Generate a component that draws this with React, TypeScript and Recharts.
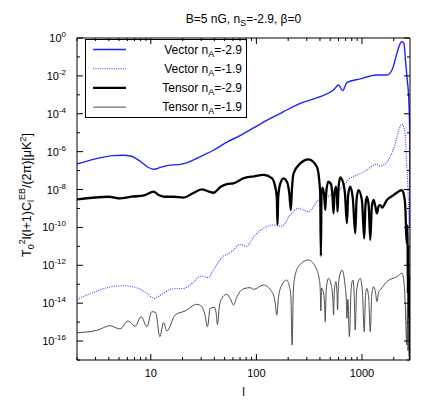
import React from 'react';
import { LineChart, Line, XAxis, YAxis, Legend } from 'recharts';

// multipole l and log10 of T0^2 l(l+1)C_l^EB/(2pi)
const vecSteepL = [2, 3, 4.4, 5.5, 6.4, 7.9, 9, 10.7, 12.5, 14.2, 19.6, 24, 29.3, 40, 52.5, 70, 94, 130, 181, 260, 402, 537, 600, 655, 720, 962, 1386, 1722, 1923, 2144, 2300, 2392, 2500, 2596, 2680, 2767, 2842, 2850];
const vecSteepExp = [-6.65, -6.38, -6.21, -6.19, -6.23, -6.5, -6.75, -6.93, -6.82, -6.74, -6.66, -6.5, -6.27, -5.9, -5.5, -5.15, -4.75, -4.3, -3.89, -3.45, -3.1, -2.75, -2.48, -2.78, -2.36, -2.16, -1.95, -1.95, -1.69, -0.81, -0.3, -0.19, -0.3, -1.33, -2.2, -3.1, -5.39, -10];

const vecFlatL = [2, 3, 4, 5.5, 7.1, 9.2, 10.7, 12.7, 15.8, 20.4, 23.6, 30, 35.2, 39.2, 47, 58, 70, 81, 94, 117, 145, 174, 209, 250, 311, 387, 465, 622, 774, 832, 1114, 1288, 1386, 1490, 1603, 1854, 2070, 2144, 2392, 2500, 2572, 2650, 2767, 2830, 2850];
const vecFlatExp = [-13.8, -13.39, -13.16, -13.08, -13.16, -13.48, -13.75, -13.53, -13.25, -13.22, -13.04, -12.57, -12.65, -12.25, -11.6, -11.3, -10.9, -11.0, -10.5, -10.05, -9.87, -9.93, -9.35, -8.99, -9.17, -8.55, -8.38, -7.99, -7.4, -7.32, -6.97, -6.71, -6.65, -6.76, -6.71, -6.25, -5.56, -5.21, -4.55, -4.75, -5.21, -6.62, -9.26, -13.66, -17];

const tenSteepL = [2, 4, 5.1, 6.6, 8.8, 10.6, 12, 13.6, 16.4, 20.4, 25, 30.4, 35, 39.2, 46, 52.5, 60.6, 75, 95, 117, 140, 150, 156, 158.5, 161, 168, 181, 195, 205, 212, 217, 225, 260, 311, 374, 395, 402, 408, 414, 425, 440, 449, 458, 480, 508, 525, 538, 550, 567, 580, 587, 600, 622, 650, 690, 720, 740, 774, 820, 863, 890, 928, 1000, 1050, 1080, 1114, 1160, 1198, 1240, 1288, 1340, 1386, 1440, 1490, 1550, 1722, 1995, 2392, 2500, 2572, 2650, 2700, 2720, 2745, 2765, 2790, 2810, 2830, 2850];
const tenSteepExp = [-8.52, -8.38, -8.47, -8.38, -8.29, -8.11, -8.3, -8.38, -8.38, -8.43, -8.2, -7.99, -8.1, -8.17, -7.85, -7.71, -7.67, -7.41, -7.3, -7.23, -7.4, -7.8, -8.4, -9.87, -8.4, -7.7, -7.41, -7.6, -8.2, -9.08, -8.0, -7.15, -6.62, -6.41, -6.8, -7.6, -8.2, -11.5, -8.2, -7.9, -8.4, -9.08, -8.2, -7.59, -7.7, -8.3, -9.26, -8.2, -7.85, -8.4, -9.17, -7.9, -7.36, -7.5, -8.2, -9.78, -8.3, -7.85, -8.5, -10.31, -8.5, -8.03, -8.6, -10.58, -8.8, -8.38, -8.9, -10.66, -8.9, -8.55, -8.9, -9.26, -8.85, -8.82, -8.95, -8.55, -8.29, -8.03, -8.3, -8.9, -10.84, -9.9, -13.5, -11, -16, -12.5, -16.5, -14, -17];

const tenFlatL = [2, 3.1, 4.1, 5.1, 6.1, 7.1, 8.1, 9.2, 10.2, 11.1, 12.2, 13.2, 14.2, 17, 21.1, 27.3, 30.4, 32.5, 34.4, 36.5, 40, 41.5, 42.8, 44.5, 47, 52.5, 57, 60.7, 65, 70, 78, 87, 94, 117, 140, 150, 156, 162, 174, 194, 205, 212, 218, 224, 233, 260, 311, 374, 395, 402, 408, 414, 425, 440, 449, 458, 482, 510, 530, 538, 548, 567, 580, 587, 600, 646, 690, 710, 720, 735, 760, 790, 820, 845, 863, 890, 962, 1010, 1050, 1080, 1114, 1160, 1198, 1240, 1288, 1340, 1386, 1440, 1490, 1722, 2144, 2392, 2500, 2572, 2650, 2700, 2730, 2760, 2800, 2850];
const tenFlatExp = [-15.56, -15.43, -15.19, -15.36, -14.94, -15.22, -14.71, -15.24, -14.45, -14.48, -15.77, -15.03, -15.47, -14.63, -14.41, -14.06, -14.18, -14.6, -15.24, -14.27, -14.22, -14.5, -15.12, -14.2, -13.75, -13.53, -13.8, -14.1, -13.7, -13.39, -13.22, -13.18, -13.27, -13.04, -13.4, -13.9, -14.63, -13.7, -13.04, -12.78, -13.1, -13.6, -16.21, -13.3, -12.51, -11.95, -11.72, -12.25, -12.8, -13.22, -14.41, -13.2, -13.3, -13.8, -14.98, -13.3, -12.69, -13.0, -13.8, -14.63, -13.3, -12.86, -13.5, -14.36, -12.9, -12.25, -13.0, -13.8, -14.8, -13.8, -15.77, -13.2, -12.78, -13.6, -15.42, -13.3, -12.69, -13.4, -15.5, -13.6, -13.22, -13.8, -15.5, -13.5, -13.13, -13.4, -13.92, -13.4, -13.3, -12.86, -12.6, -12.42, -12.9, -14.1, -16.21, -14.0, -16.5, -14.8, -16.8, -16.8];

const X_TICKS = [2, 3, 4, 5, 6, 7, 8, 9, 10, 20, 30, 40, 50, 60, 70, 80, 90, 100, 200, 300, 400, 500, 600, 700, 800, 900, 1000, 2000];
const X_LABELED = [10, 100, 1000];
const Y_TICKS = [1, 1e-1, 1e-2, 1e-3, 1e-4, 1e-5, 1e-6, 1e-7, 1e-8, 1e-9, 1e-10, 1e-11, 1e-12, 1e-13, 1e-14, 1e-15, 1e-16, 1e-17];

const toPoints = (ls: number[], exps: number[]) => ls.map((l, i) => ({ l, v: Math.pow(10, exps[i]) }));

// the last series is tied to the mirrored top/right axes (same domains) so gnuplot's box frame gets drawn
const SERIES = [
  { key: 'vs', kind: 'Vector', nA: '-2.9', color: '#1f1fff', width: 1.4, dash: undefined, data: toPoints(vecSteepL, vecSteepExp), xId: 0, yId: 0 },
  { key: 'vf', kind: 'Vector', nA: '-1.9', color: '#3a3aff', width: 1.1, dash: '1 1.3', data: toPoints(vecFlatL, vecFlatExp), xId: 0, yId: 0 },
  { key: 'ts', kind: 'Tensor', nA: '-2.9', color: '#000000', width: 2.3, dash: undefined, data: toPoints(tenSteepL, tenSteepExp), xId: 0, yId: 0 },
  { key: 'tf', kind: 'Tensor', nA: '-1.9', color: '#4d4d4d', width: 1, dash: undefined, data: toPoints(tenFlatL, tenFlatExp), xId: 'top', yId: 'right' },
];

const FONT = '"Liberation Sans", Arial, Helvetica, sans-serif';

const expOf = (v: number) => Math.round(Math.log10(v));

const BottomTick = ({ x, y, payload }: any) => {
  const major = X_LABELED.includes(payload.value);
  return (
    <g>
      <line x1={x} x2={x} y1={y} y2={y - (major ? 6 : 3)} stroke="#000" />
      {major && (
        <text x={x} y={y + 17} textAnchor="middle" fontSize={11} fill="#000">
          {payload.value}
        </text>
      )}
    </g>
  );
};

const TopTick = ({ x, y, payload }: any) => {
  const major = X_LABELED.includes(payload.value);
  return <line x1={x} x2={x} y1={y} y2={y + (major ? 6 : 3)} stroke="#000" />;
};

const LeftTick = ({ x, y, payload }: any) => {
  const e = expOf(payload.value);
  const major = e % 2 === 0 && e >= -16;
  return (
    <g>
      <line x1={x} x2={x + (major ? 6 : 3)} y1={y} y2={y} stroke="#000" />
      {major && (
        <text x={x - 11} y={y + 4} textAnchor="end" fontSize={11} fill="#000">
          10<tspan dy={-5} fontSize={8}>{String(e)}</tspan>
        </text>
      )}
    </g>
  );
};

const RightTick = ({ x, y, payload }: any) => {
  const e = expOf(payload.value);
  const major = e % 2 === 0;
  return <line x1={x} x2={x - (major ? 6 : 3)} y1={y} y2={y} stroke="#000" />;
};

const TitleLabel = ({ viewBox }: any) => (
  <text x={viewBox.x + viewBox.width / 2} y={viewBox.y + viewBox.height - 15} textAnchor="middle" fontSize={12} fill="#000">
    B=5 nG, n<tspan dy={3} fontSize={9}>S</tspan>
    <tspan dy={-3}>=-2.9, β=0</tspan>
  </text>
);

const XLabel = ({ viewBox }: any) => (
  <text x={viewBox.x + viewBox.width / 2} y={viewBox.y + 36} textAnchor="middle" fontSize={12} fill="#000">
    l
  </text>
);

const YLabel = ({ viewBox }: any) => {
  const cx = viewBox.x + 31;
  const cy = viewBox.y + viewBox.height / 2 - 4;
  return (
    <text x={cx} y={cy} transform={`rotate(-90, ${cx}, ${cy})`} textAnchor="middle" fontSize={12.5} fill="#000">
      T<tspan dy={3} fontSize={9}>0</tspan>
      <tspan dy={-9} fontSize={9}>2</tspan>
      <tspan dy={6}>l(l+1)C</tspan>
      <tspan dy={3} fontSize={9}>l</tspan>
      <tspan dy={-9} fontSize={9}>EB</tspan>
      <tspan dy={6}>/(2π)[μK</tspan>
      <tspan dy={-5} fontSize={9}>2</tspan>
      <tspan dy={5}>]</tspan>
    </text>
  );
};

const LegendBox = () => (
  <svg width={162} height={79} style={{ display: 'block', fontFamily: FONT }}>
    <rect x={0.5} y={0.5} width={161} height={78} fill="none" stroke="#000" />
    {SERIES.map((s, i) => {
      const cy = 10.5 + i * 19.2;
      return (
        <g key={s.key}>
          <line x1={8} x2={41} y1={cy} y2={cy} stroke={s.color} strokeWidth={s.width} strokeDasharray={s.dash} />
          <text x={157} y={cy + 4} textAnchor="end" fontSize={12} fill="#000">
            {s.kind} n<tspan dy={3} fontSize={9}>A</tspan>
            <tspan dy={-3}>={s.nA}</tspan>
          </text>
        </g>
      );
    })}
  </svg>
);

export default function App() {
  return (
    <div style={{ position: 'absolute', left: 0, top: 0, background: '#fff' }}>
      <LineChart width={429} height={401} margin={{ top: 37, right: 18, bottom: 0, left: 0 }} style={{ fontFamily: FONT }}>
        <XAxis
          dataKey="l"
          type="number"
          scale="log"
          domain={[2, 2850]}
          allowDataOverflow
          ticks={X_TICKS}
          interval={0}
          tickSize={0}
          tickMargin={0}
          tickLine={false}
          tick={(p: any) => <BottomTick {...p} />}
          height={41}
          axisLine={{ stroke: '#000' }}
          label={(p: any) => <XLabel {...p} />}
        />
        <XAxis
          xAxisId="top"
          orientation="top"
          dataKey="l"
          type="number"
          scale="log"
          domain={[2, 2850]}
          allowDataOverflow
          ticks={X_TICKS}
          interval={0}
          tickSize={0}
          tickMargin={0}
          tickLine={false}
          tick={(p: any) => <TopTick {...p} />}
          height={1}
          axisLine={{ stroke: '#000' }}
          label={(p: any) => <TitleLabel {...p} />}
        />
        <YAxis
          type="number"
          scale="log"
          domain={[1e-17, 1]}
          allowDataOverflow
          ticks={Y_TICKS}
          interval={0}
          tickSize={0}
          tickMargin={0}
          tickLine={false}
          tick={(p: any) => <LeftTick {...p} />}
          width={77}
          axisLine={{ stroke: '#000' }}
          label={(p: any) => <YLabel {...p} />}
        />
        <YAxis
          yAxisId="right"
          orientation="right"
          type="number"
          scale="log"
          domain={[1e-17, 1]}
          allowDataOverflow
          ticks={Y_TICKS}
          interval={0}
          tickSize={0}
          tickMargin={0}
          tickLine={false}
          tick={(p: any) => <RightTick {...p} />}
          width={1}
          axisLine={{ stroke: '#000' }}
        />
        <Legend
          layout="vertical"
          align="center"
          verticalAlign="middle"
          wrapperStyle={{ left: 85, top: 39, width: 162, height: 79 }}
          content={() => <LegendBox />}
        />
        {SERIES.map((s) => (
          <Line
            key={s.key}
            data={s.data}
            dataKey="v"
            xAxisId={s.xId}
            yAxisId={s.yId}
            type="monotone"
            stroke={s.color}
            strokeWidth={s.width}
            strokeDasharray={s.dash}
            dot={false}
            activeDot={false}
            isAnimationActive={false}
          />
        ))}
      </LineChart>
    </div>
  );
}
